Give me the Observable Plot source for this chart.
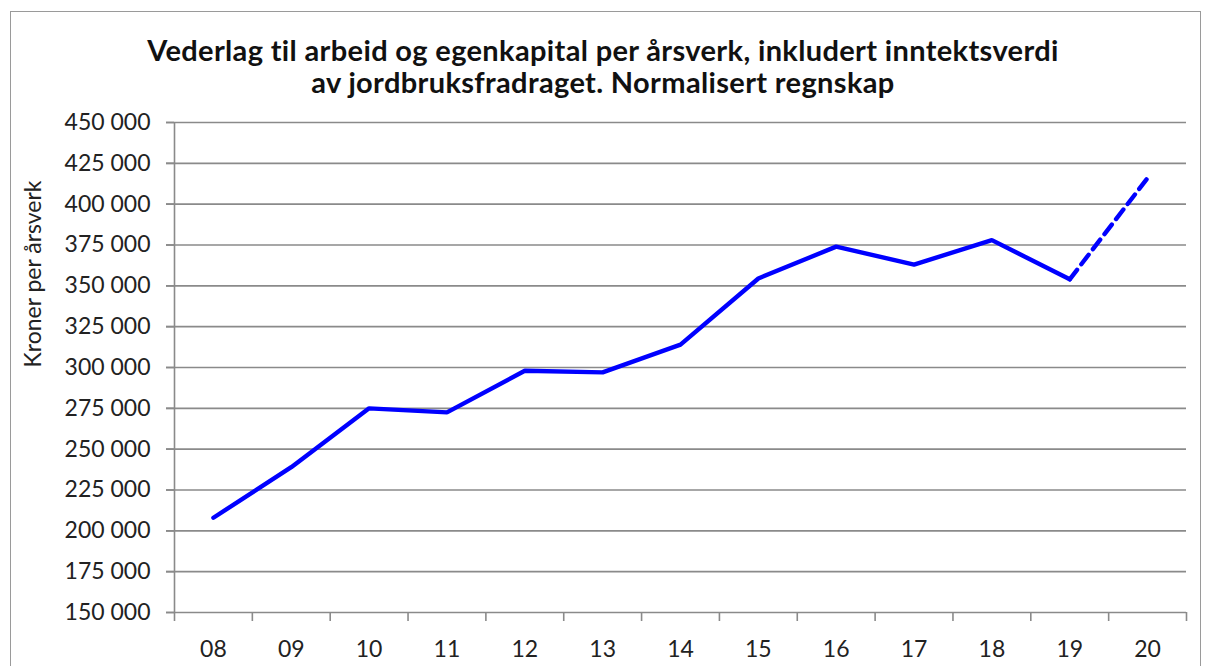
<!DOCTYPE html>
<html>
<head>
<meta charset="utf-8">
<script src="https://cdn.jsdelivr.net/npm/d3@7"></script>
<script src="https://cdn.jsdelivr.net/npm/@observablehq/plot@0.6"></script>
<style>
  html, body { margin: 0; padding: 0; background: #fff; }
  body { width: 1206px; height: 666px; overflow: hidden; position: relative;
         font-family: Lato, "Open Sans", sans-serif; }
  #frame { position: absolute; left: 10px; top: 11px; width: 1189px; height: 700px; border: 1.5px solid #9a9a9a; }
  #title { position: absolute; left: 0; top: 34px; width: 1206px; text-align: center;
           font-weight: bold; font-size: 29px; line-height: 32px; color: #111; letter-spacing: 0.35px; }
  #chart { position: absolute; left: 0; top: 100px; }
</style>
</head>
<body>
<div id="frame"></div>
<div id="title">Vederlag til arbeid og egenkapital per årsverk, inkludert inntektsverdi<br>av jordbruksfradraget. Normalisert regnskap</div>
<div id="chart"></div>
<script>
const years = ["08","09","10","11","12","13","14","15","16","17","18","19","20"];
const values = [208000, 239000, 275000, 272500, 298000, 297000, 314000, 354500, 374000, 363000, 378000, 354000, 416000];
const yTicks = [150000,175000,200000,225000,250000,275000,300000,325000,350000,375000,400000,425000,450000];
const yLabel = "Kroner per årsverk";
const dashedFrom = "19";

const data = years.map((y, i) => ({year: y, i, value: values[i]}));
const splitIdx = years.indexOf(dashedFrom);
const solid = data.slice(0, splitIdx + 1);
const dashed = data.slice(splitIdx);
const boundaries = d3.range(years.length + 1).map(k => k - 0.5);

const fmt = d3.formatLocale({decimal: ",", thousands: " ", grouping: [3], currency: ["", ""]}).format(",d");
const font = 'Lato, "Open Sans", sans-serif';

const plot = Plot.plot({
  width: 1206,
  height: 566,
  marginLeft: 174,
  marginRight: 20,
  marginTop: 22,
  marginBottom: 54,
  style: {fontFamily: font, fontSize: "23px", color: "#222", background: "transparent"},
  x: {domain: [-0.5, years.length - 0.5]},
  y: {domain: [150000, 450000]},
  marks: [
    Plot.gridY(yTicks, {stroke: "#8a8a8a", strokeOpacity: 1, strokeWidth: 1.6, x1: -0.5, x2: years.length - 0.5, insetLeft: -8}),
    Plot.axisY(yTicks, {tickFormat: fmt, tickSize: 8, tickPadding: 16, stroke: "#8a8a8a", strokeWidth: 1.6, label: null}),
    Plot.ruleX([-0.5], {y1: 150000, y2: 450000, stroke: "#8a8a8a", strokeWidth: 1.6}),
    Plot.axisX(boundaries, {tickSize: 9, tickFormat: () => "", stroke: "#8a8a8a", strokeWidth: 1.6, label: null}),
    Plot.axisX(data.map(d => d.i), {tickSize: 0, tickPadding: 28, tickFormat: i => years[i], label: null}),
    Plot.text([yLabel], {frameAnchor: "left", rotate: -90, dx: -141, fill: "#222"}),
    Plot.line(solid, {x: "i", y: "value", stroke: "#0000ff", strokeWidth: 4.4, strokeLinejoin: "miter", strokeLinecap: "round"}),
    Plot.line(dashed, {x: "i", y: "value", stroke: "#0000ff", strokeWidth: 4.4, strokeDasharray: "12,7"})
  ]
});
document.getElementById("chart").appendChild(plot);
</script>
</body>
</html>
